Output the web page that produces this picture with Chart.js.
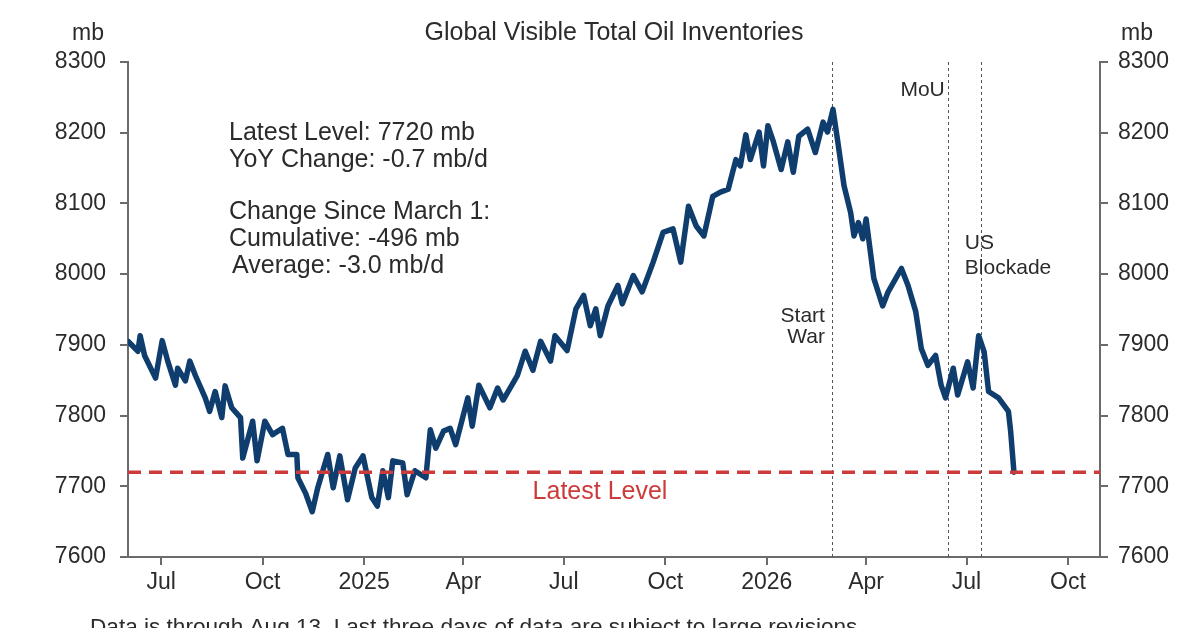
<!DOCTYPE html>
<html>
<head>
<meta charset="utf-8">
<script src="https://cdn.jsdelivr.net/npm/chart.js@4.4.1/dist/chart.umd.min.js"></script>
<style>
  html, body { margin: 0; padding: 0; background: #fff; }
  #wrap { width: 1200px; height: 628px; position: relative; overflow: hidden; }
</style>
</head>
<body>
<div id="wrap"><canvas id="chart" width="1200" height="628"></canvas></div>
<script>
// day 0 = 2024-06-01
const startDate = '2024-06-01';
const endDate = '2026-10-30';

// readings: day offset and inventory level (mb)
const days = [
  0, 9, 11, 15, 25, 31, 36, 43, 45, 52, 56, 61, 70, 74, 79, 85, 88, 94, 102, 104,
  113, 117, 124, 131, 140, 145, 153, 154, 161, 167, 172, 181, 186, 192, 199, 206, 213, 221, 226, 231,
  236, 240, 249, 253, 260, 270, 274, 279, 286, 292, 297, 308, 312, 318, 328, 335, 340, 353, 360, 367,
  374, 383, 387, 398, 406, 413, 419, 424, 428, 435, 444, 448, 458, 466, 476, 485, 494, 501, 508, 515,
  522, 530, 537, 544, 551, 555, 560, 564, 572, 576, 580, 585, 592, 598, 603, 608, 616, 623, 630, 634,
  639, 643, 649, 655, 658, 662, 666, 669, 676, 684, 689, 701, 707, 714, 719, 725, 732, 737, 741, 748,
  752, 761, 766, 771, 776, 780, 789, 798, 800, 803
];
const inventory = [
  7905, 7891, 7913, 7885, 7853, 7906, 7877, 7843, 7867, 7849, 7877, 7857, 7825, 7806, 7834, 7797, 7842, 7811, 7797, 7740,
  7792, 7736, 7792, 7773, 7782, 7745, 7745, 7712, 7690, 7664, 7698, 7745, 7698, 7743, 7681, 7726, 7743, 7684, 7672, 7722,
  7684, 7736, 7733, 7688, 7722, 7712, 7780, 7754, 7778, 7782, 7759, 7825, 7785, 7843, 7811, 7839, 7822, 7857, 7891, 7864,
  7905, 7877, 7913, 7892, 7951, 7970, 7927, 7951, 7913, 7955, 7984, 7958, 7998, 7975, 8017, 8059, 8064, 8017, 8096, 8068,
  8054, 8110, 8116, 8120, 8162, 8153, 8197, 8162, 8201, 8153, 8210, 8187, 8148, 8187, 8144, 8195, 8205, 8172, 8215, 8201,
  8233, 8191, 8125, 8087, 8054, 8073, 8050, 8078, 7994, 7955, 7975, 8008, 7984, 7947, 7895, 7871, 7885, 7843, 7825, 7867,
  7829, 7876, 7839, 7913, 7890, 7834, 7825, 7806, 7778, 7720
];

const latestLevel = 7720;

const tickDates = ['2024-07-01', '2024-10-01', '2025-01-01', '2025-04-01', '2025-07-01',
                   '2025-10-01', '2026-01-01', '2026-04-01', '2026-07-01', '2026-10-01'];
const tickLabels = ['Jul', 'Oct', '2025', 'Apr', 'Jul', 'Oct', '2026', 'Apr', 'Jul', 'Oct'];

const eventDates = ['2026-03-01', '2026-06-14', '2026-07-14'];
const eventLabels = [['Start', 'War'], ['MoU'], ['US', 'Blockade']];

const statLines = [
  'Latest Level: 7720 mb',
  'YoY Change: -0.7 mb/d',
  '',
  'Change Since March 1:',
  'Cumulative: -496 mb',
  'Average: -3.0 mb/d'
];

function dayOf(s) {
  return Math.round((Date.parse(s) - Date.parse(startDate)) / 86400000);
}
const tickDays = tickDates.map(dayOf);
const eventDays = eventDates.map(dayOf);

const FONT = '"Liberation Sans", Arial, sans-serif';
const TXT = '#2b2b2b';
const AXIS = '#6b6b6b';

const overlay = {
  id: 'overlay',
  beforeDatasetsDraw(chart) {
    const { ctx, chartArea, scales } = chart;
    ctx.save();
    ctx.strokeStyle = '#555';
    ctx.lineWidth = 1;
    ctx.setLineDash([3, 3]);
    eventDays.forEach(d => {
      const x = Math.round(scales.x.getPixelForValue(d)) + 0.5;
      ctx.beginPath();
      ctx.moveTo(x, chartArea.top);
      ctx.lineTo(x, chartArea.bottom);
      ctx.stroke();
    });
    ctx.restore();
  },
  afterDatasetsDraw(chart) {
    const { ctx, chartArea, scales } = chart;
    const y = scales.y.getPixelForValue(latestLevel);
    ctx.save();
    ctx.strokeStyle = '#cc3b3b';
    ctx.lineWidth = 3.5;
    ctx.setLineDash([13, 8]);
    ctx.beginPath();
    ctx.moveTo(chartArea.left, y);
    ctx.lineTo(chartArea.right, y);
    ctx.stroke();
    ctx.restore();
  },
  afterDraw(chart) {
    const { ctx, scales } = chart;
    ctx.save();
    ctx.fillStyle = TXT;
    ctx.textBaseline = 'middle';

    ctx.font = '25px ' + FONT;
    ctx.textAlign = 'center';
    ctx.fillText('Global Visible Total Oil Inventories', 614, 33);
    ctx.font = '23px ' + FONT;
    ctx.fillText('mb', 88, 34);
    ctx.fillText('mb', 1137, 34);

    // stats block
    ctx.textAlign = 'left';
    ctx.font = '25px ' + FONT;
    let ty = 133;
    statLines.forEach((l, i) => {
      if (l === '') { ty += 25; return; }
      ctx.fillText(l, i === statLines.length - 1 ? 232 : 229, ty);
      ty += 27;
    });

    // event labels
    ctx.font = '21px ' + FONT;
    const xw = scales.x.getPixelForValue(eventDays[0]);
    ctx.textAlign = 'right';
    ctx.fillText(eventLabels[0][0], xw - 7, 316);
    ctx.fillText(eventLabels[0][1], xw - 7, 337);
    const xm = scales.x.getPixelForValue(eventDays[1]);
    ctx.fillText(eventLabels[1][0], xm - 3, 90);
    const xb = scales.x.getPixelForValue(eventDays[2]);
    ctx.textAlign = 'left';
    ctx.fillText(eventLabels[2][0], xb - 16, 243);
    ctx.fillText(eventLabels[2][1], xb - 16, 268);

    // latest level label
    ctx.fillStyle = '#cc3b3b';
    ctx.font = '25px ' + FONT;
    ctx.textAlign = 'center';
    ctx.fillText('Latest Level', 600, 492);

    // footnote
    ctx.fillStyle = TXT;
    ctx.font = '22.6px ' + FONT;
    ctx.textAlign = 'left';
    ctx.textBaseline = 'alphabetic';
    ctx.fillText('Data is through Aug 13. Last three days of data are subject to large revisions.', 90, 634);
    ctx.restore();
  }
};

const yAxis = (pos, w, pad) => ({
  type: 'linear',
  position: pos,
  min: 7600,
  max: 8300,
  afterFit(scale) { scale.width = w; },
  ticks: { stepSize: 100, color: TXT, font: { family: FONT, size: 23 }, padding: pad, callback: v => String(v) },
  grid: { drawOnChartArea: false, drawTicks: true, tickLength: 8, color: AXIS, lineWidth: 2 },
  border: { display: true, color: AXIS, width: 2 }
});

new Chart(document.getElementById('chart').getContext('2d'), {
  type: 'line',
  data: {
    datasets: [{
      data: days.map((d, i) => ({ x: d, y: inventory[i] })),
      borderColor: '#0f3d6e',
      borderWidth: 5.5,
      borderJoinStyle: 'round',
      borderCapStyle: 'round',
      pointRadius: 0,
      tension: 0,
      fill: false
    }]
  },
  options: {
    responsive: false,
    animation: false,
    devicePixelRatio: 1,
    layout: { padding: { top: 62, left: 0, right: 0, bottom: 0 } },
    plugins: { legend: { display: false }, tooltip: { enabled: false } },
    scales: {
      x: {
        type: 'linear',
        min: 0,
        max: dayOf(endDate),
        afterFit(scale) { scale.height = 71; },
        afterBuildTicks(scale) { scale.ticks = tickDays.map(v => ({ value: v })); },
        ticks: {
          color: TXT,
          font: { family: FONT, size: 23 },
          padding: 4,
          maxRotation: 0,
          autoSkip: false,
          callback: (v, i) => tickLabels[i]
        },
        grid: { drawOnChartArea: false, drawTicks: true, tickLength: 8, color: AXIS, lineWidth: 2 },
        border: { display: true, color: AXIS, width: 2 }
      },
      y: yAxis('left', 128, 14),
      y2: yAxis('right', 100, 10)
    }
  },
  plugins: [overlay]
});
</script>
</body>
</html>
